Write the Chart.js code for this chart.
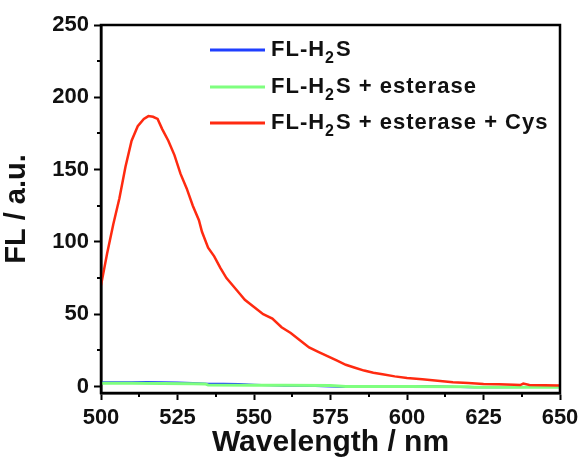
<!DOCTYPE html>
<html><head><meta charset="utf-8">
<script src="https://cdn.jsdelivr.net/npm/chart.js@4/dist/chart.umd.min.js"></script>
<style>html,body{margin:0;padding:0;background:#fff}#wrap{width:579px;height:461px}</style>
</head><body><div id="wrap"><canvas id="c" width="579" height="461"></canvas></div>
<script>
const xTicks = [500, 525, 550, 575, 600, 625, 650];
const yTicks = [0, 50, 100, 150, 200, 250];
const seriesNames = ["FL-H|2|S", "FL-H|2|S + esterase", "FL-H|2|S + esterase + Cys"];
const seriesColors = ["#1f3fff", "#7fff7f", "#ff2a10"];

const blueX = [500, 505, 510, 515, 520, 525, 530, 535, 540, 545, 550, 555, 560, 570, 580, 585, 590, 595, 600, 605, 610, 620, 630, 640, 650];
const blueY = [3.0, 3.0, 3.0, 3.1, 2.9, 2.8, 2.4, 1.9, 1.9, 1.8, 1.2, 0.8, 0.6, 0.4, -0.3, -0.4, 0.3, 0.2, -0.4, 0.3, 0.2, -0.5, -0.6, -0.3, -0.2];
const greenX = [500, 510, 520, 530, 534, 535, 550, 560, 575, 580, 600, 620, 622, 650];
const greenY = [2.2, 2.3, 2.0, 1.9, 1.8, 1.1, 0.9, 0.8, 0.7, 0.0, 0.0, -0.1, -0.6, -0.6];
const redX = [500, 502, 504, 506, 508, 510, 512, 514, 515.5, 517, 518.5, 520, 522, 524, 526, 528, 530, 532, 533, 535, 537, 539, 541, 543, 545, 547, 550, 553, 556, 559, 562, 565, 568, 571, 574, 577, 580, 583, 586, 589, 592, 596, 600, 605, 610, 615, 620, 625, 630, 635, 637, 638, 640, 645, 650];
const redY = [70, 92, 112, 130, 152, 170, 180, 185, 187, 186.5, 185, 178, 170, 160, 147, 137, 125, 115, 107, 96, 90, 82, 75, 70, 65, 60, 55, 50, 47, 41, 37, 32, 27, 24, 21, 18, 15, 13, 11, 9.5, 8.5, 7, 5.8, 5, 4, 3, 2.5, 1.8, 1.5, 1.2, 1.0, 2.0, 1.0, 0.8, 0.7];

function pts(xs, ys){ return xs.map((x,i)=>({x:x, y:ys[i]})); }

const FONT = '"Liberation Sans", Arial, sans-serif';

const framePlugin = {
  id: 'frame',
  afterDraw(chart){
    const ctx = chart.ctx, a = chart.chartArea;
    const xs = chart.scales.x, ys = chart.scales.y;
    ctx.save();
    ctx.strokeStyle = '#000';
    ctx.lineWidth = 2.5;
    ctx.strokeRect(a.left, a.top, a.right - a.left, a.bottom - a.top);
    ctx.lineWidth = 2;
    for (let i = 0; i < xTicks.length - 1; i++) {
      const v = (xTicks[i] + xTicks[i+1]) / 2;
      const px = Math.round(xs.getPixelForValue(v));
      ctx.beginPath(); ctx.moveTo(px, a.bottom); ctx.lineTo(px, a.bottom + 4); ctx.stroke();
    }
    for (let i = 0; i < yTicks.length - 1; i++) {
      const v = (yTicks[i] + yTicks[i+1]) / 2;
      const py = Math.round(ys.getPixelForValue(v));
      ctx.beginPath(); ctx.moveTo(a.left, py); ctx.lineTo(a.left - 4, py); ctx.stroke();
    }
    const lx0 = 210, lx1 = 265, tx = 271;
    const ly = [50, 87, 123];
    ctx.textBaseline = 'middle';
    for (let i = 0; i < seriesNames.length; i++) {
      ctx.strokeStyle = seriesColors[i];
      ctx.lineWidth = 3;
      ctx.beginPath(); ctx.moveTo(lx0, ly[i]); ctx.lineTo(lx1, ly[i]); ctx.stroke();
      const parts = seriesNames[i].split('|');
      let x = tx;
      ctx.fillStyle = '#111';
      parts.forEach((p, k) => {
        if (k === 1) {
          ctx.letterSpacing = '0px';
          ctx.font = 'bold 16px ' + FONT;
          ctx.fillText(p, x, ly[i] + 9);
          x += ctx.measureText(p).width + 2;
        } else {
          ctx.font = 'bold 22px ' + FONT;
          ctx.letterSpacing = '1px';
          ctx.fillText(p, x, ly[i]);
          x += ctx.measureText(p).width;
          ctx.letterSpacing = '0px';
        }
      });
    }
    ctx.restore();
  }
};

new Chart(document.getElementById('c'), {
  type: 'line',
  data: {
    datasets: [
      { label: 'blue', data: pts(blueX, blueY), borderColor: seriesColors[0], borderWidth: 2, pointRadius: 0, tension: 0, order: 3 },
      { label: 'green', data: pts(greenX, greenY), borderColor: seriesColors[1], borderWidth: 3, pointRadius: 0, tension: 0, order: 2 },
      { label: 'red', data: pts(redX, redY), borderColor: seriesColors[2], borderWidth: 2.5, pointRadius: 0, tension: 0, order: 1 }
    ]
  },
  options: {
    responsive: false,
    animation: false,
    devicePixelRatio: 1,
    layout: { padding: { top: 25, right: 0, left: 0, bottom: 0 } },
    plugins: { legend: { display: false }, tooltip: { enabled: false } },
    scales: {
      x: {
        type: 'linear', min: 500, max: 650,
        afterBuildTicks(s){ s.ticks = xTicks.map(v => ({value: v})); },
        afterFit(s){ s.height = 68; s.paddingRight = 19; },
        border: { display: true, color: '#000', width: 2.5 },
        grid: { drawOnChartArea: false, drawTicks: true, tickLength: 7, tickColor: '#000', tickWidth: 2 },
        ticks: { color: '#111', font: { family: FONT, size: 22, weight: 'bold' }, padding: 5, maxRotation: 0 },
        title: { display: true, text: 'Wavelength / nm', color: '#111', font: { family: FONT, size: 30, weight: 'bold' }, padding: { top: 0, bottom: 0 } }
      },
      y: {
        type: 'linear', min: -4.5, max: 250,
        afterBuildTicks(s){ s.ticks = yTicks.map(v => ({value: v})); },
        afterFit(s){ s.width = 101; },
        border: { display: true, color: '#000', width: 2.5 },
        grid: { drawOnChartArea: false, drawTicks: true, tickLength: 7, tickColor: '#000', tickWidth: 2 },
        ticks: { color: '#111', font: { family: FONT, size: 22, weight: 'bold' }, padding: 5 },
        title: { display: true, text: 'FL / a.u.', color: '#111', font: { family: FONT, size: 29, weight: 'bold' }, padding: { top: 0, bottom: 4 } }
      }
    }
  },
  plugins: [framePlugin]
});
</script></body></html>
